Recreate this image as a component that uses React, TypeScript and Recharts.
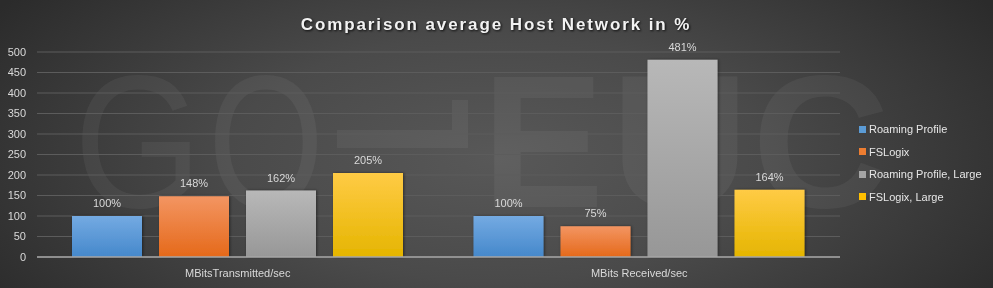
import React from "react";
import { BarChart, Bar, XAxis, YAxis, CartesianGrid, Legend, LabelList } from "recharts";

const categories = ["MBitsTransmitted/sec", "MBits Received/sec"];
const roamingProfile = [100, 100];
const fsLogix = [148, 75];
const roamingProfileLarge = [162, 481];
const fsLogixLarge = [205, 164];
const yTicks = [0, 50, 100, 150, 200, 250, 300, 350, 400, 450, 500];

const series = [
  { key: "rp", name: "Roaming Profile", values: roamingProfile, top: "#74aae2", bottom: "#4588cb", swatch: "#5b9bd5" },
  { key: "fs", name: "FSLogix", values: fsLogix, top: "#f39562", bottom: "#e5691a", swatch: "#ed7d31" },
  { key: "rpl", name: "Roaming Profile, Large", values: roamingProfileLarge, top: "#b8b8b8", bottom: "#979797", swatch: "#a5a5a5" },
  { key: "fsl", name: "FSLogix, Large", values: fsLogixLarge, top: "#ffcb45", bottom: "#e5b500", swatch: "#ffc000" },
];

const watermarkLetters = [
  { ch: "G", x: 74, w: 128, bold: false },
  { ch: "O", x: 208, w: 116, bold: false },
  { ch: "E", x: 482, w: 122, bold: true },
  { ch: "U", x: 611, w: 138, bold: true },
  { ch: "C", x: 752, w: 138, bold: true },
];

const data = categories.map((c, i) => {
  const row: any = { name: c };
  series.forEach((s) => (row[s.key] = s.values[i]));
  return row;
});

const font = "'Liberation Sans', Arial, sans-serif";

const LegendContent = () => (
  <div style={{ fontFamily: font, fontSize: 11, color: "#e6e6e6" }}>
    {series.map((s) => (
      <div key={s.key} style={{ display: "flex", alignItems: "center", height: 22.5 }}>
        <span style={{ width: 7, height: 7, background: s.swatch, marginRight: 3, display: "inline-block" }} />
        <span>{s.name}</span>
      </div>
    ))}
  </div>
);

export default function App() {
  return (
    <div
      style={{
        position: "fixed",
        left: 0,
        top: 0,
        width: 993,
        height: 288,
        overflow: "hidden",
        background: "radial-gradient(ellipse 60% 95% at 50% 55%, #585858 0%, #4a4a4a 45%, #2b2b2b 100%)",
      }}
    >
      <svg width={993} height={288} style={{ position: "absolute", left: 0, top: 0 }}>
        <g fill="#ffffff" fillOpacity={0.05}>
          {watermarkLetters.map((l) => (
            <text
              key={l.ch}
              x={l.x}
              y={207}
              fontFamily={font}
              fontWeight={l.bold ? "bold" : "normal"}
              fontSize={190}
              textLength={l.w}
              lengthAdjust="spacingAndGlyphs"
            >
              {l.ch}
            </text>
          ))}
          <path d="M337,130 H452 V100 H468 V148 H337 Z" />
        </g>
        <text
          x={496}
          y={30}
          textAnchor="middle"
          fontFamily={font}
          fontWeight="bold"
          fontSize={17}
          fill="#f2f2f2"
          letterSpacing={1.9}
          style={{ filter: "drop-shadow(1px 1px 1px rgba(0,0,0,0.8))" }}
        >
          Comparison  average Host Network in %
        </text>
      </svg>
      <div style={{ position: "absolute", left: 0, top: 0 }}>
        <BarChart
          width={993}
          height={288}
          data={data}
          margin={{ top: 52, right: 153, bottom: 1, left: 0 }}
          barSize={70}
          barGap={17}
        >
          <defs>
            {series.map((s) => (
              <linearGradient key={s.key} id={"g-" + s.key} x1="0" y1="0" x2="0" y2="1">
                <stop offset="0%" stopColor={s.top} />
                <stop offset="100%" stopColor={s.bottom} />
              </linearGradient>
            ))}
            <filter id="shadow" x="-20%" y="-20%" width="140%" height="140%">
              <feDropShadow dx="1" dy="0" stdDeviation="1.5" floodColor="#000" floodOpacity="0.45" />
            </filter>
          </defs>
          <CartesianGrid vertical={false} stroke="#5c5c5c" />
          <XAxis
            dataKey="name"
            height={30}
            tickLine={false}
            axisLine={{ stroke: "#a6a6a6", strokeWidth: 1.5 }}
            tick={{ fill: "#d9d9d9", fontSize: 11, fontFamily: font }}
            tickMargin={6}
          />
          <YAxis
            width={37}
            domain={[0, 500]}
            ticks={yTicks}
            interval={0}
            tickLine={false}
            axisLine={false}
            tickSize={0}
            tickMargin={11}
            tick={{ fill: "#d9d9d9", fontSize: 11, fontFamily: font }}
          />
          <Legend
            layout="horizontal"
            verticalAlign="middle"
            align="center"
            content={<LegendContent />}
            wrapperStyle={{ position: "absolute", left: 859, top: 118, width: 134 }}
          />
          {series.map((s) => (
            <Bar
              key={s.key}
              dataKey={s.key}
              name={s.name}
              fill={`url(#g-${s.key})`}
              filter="url(#shadow)"
              isAnimationActive={false}
            >
              <LabelList
                dataKey={s.key}
                position="top"
                offset={9}
                formatter={(v: any) => `${v}%`}
                style={{ fill: "#d9d9d9", fontSize: 11, fontFamily: font }}
              />
            </Bar>
          ))}
        </BarChart>
      </div>
    </div>
  );
}
